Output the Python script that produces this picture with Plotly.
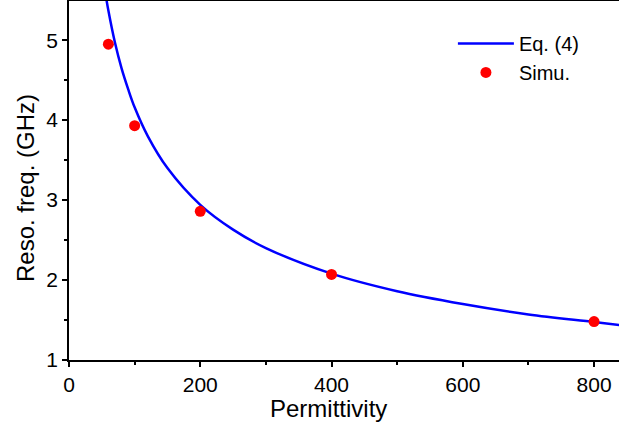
import plotly.graph_objects as go

# Curve "Eq. (4)"
eq_x = [55, 60, 70, 80, 90, 100, 120, 150, 200, 250, 300, 400, 500, 600, 700, 800, 840]
eq_y = [5.61, 5.37, 4.97, 4.65, 4.39, 4.16, 3.80, 3.40, 2.94, 2.63, 2.40, 2.08, 1.86, 1.70, 1.57, 1.475, 1.435]

# Simulated points
simu_x = [60, 100, 200, 400, 800]
simu_y = [4.95, 3.93, 2.86, 2.07, 1.48]

x_ticks = [0, 200, 400, 600, 800]
y_ticks = [1, 2, 3, 4, 5]

x_title = "Permittivity"
y_title = "Reso. freq. (GHz)"

FONT = "Liberation Sans, Arial, sans-serif"

fig = go.Figure()
fig.add_trace(go.Scatter(x=eq_x, y=eq_y, mode="lines", name="Eq. (4)",
                         line=dict(color="#0000ff", width=2.5, shape="spline", smoothing=1.0)))
fig.add_trace(go.Scatter(x=simu_x, y=simu_y, mode="markers", name="Simu.",
                         marker=dict(color="#ff0000", size=11, line=dict(width=0))))

fig.update_layout(
    width=619, height=427,
    margin=dict(l=69, r=0, t=1, b=67),
    paper_bgcolor="white", plot_bgcolor="white",
    font=dict(family=FONT, size=21, color="black"),
    showlegend=True,
    legend=dict(x=0.698, y=0.936, xanchor="left", yanchor="top",
                bgcolor="rgba(0,0,0,0)", font=dict(size=20),
                tracegroupgap=0, itemwidth=56),
)
# axis titles placed as text annotations (positions as in the reference)
fig.add_annotation(text=x_title, xref="paper", yref="paper", x=(328 - 69) / 550, y=-(408 - 360) / 359,
                   xanchor="center", yanchor="middle", showarrow=False, font=dict(size=24))
fig.add_annotation(text=y_title, xref="paper", yref="paper", x=-(69 - 25) / 550, y=(360 - 188) / 359,
                   xanchor="center", yanchor="middle", textangle=-90, showarrow=False, font=dict(size=24))

fig.update_xaxes(
    range=[0, 838], tickvals=x_ticks, showgrid=False, zeroline=False,
    showline=True, linecolor="black", linewidth=1.5, mirror=True,
    ticks="outside", ticklen=5, tickwidth=1.5, tickcolor="black",
    minor=dict(tickvals=[100, 300, 500, 700], ticks="outside", ticklen=3, tickwidth=1.5, tickcolor="black"),
    tickfont=dict(size=21),
)
fig.update_yaxes(
    range=[1, 5.49], tickvals=y_ticks, showgrid=False, zeroline=False,
    showline=True, linecolor="black", linewidth=1.5, mirror=False,
    ticks="outside", ticklen=5, tickwidth=1.5, tickcolor="black",
    minor=dict(tickvals=[1.5, 2.5, 3.5, 4.5], ticks="outside", ticklen=3, tickwidth=1.5, tickcolor="black"),
    tickfont=dict(size=21),
)

fig.write_html("out.html")
